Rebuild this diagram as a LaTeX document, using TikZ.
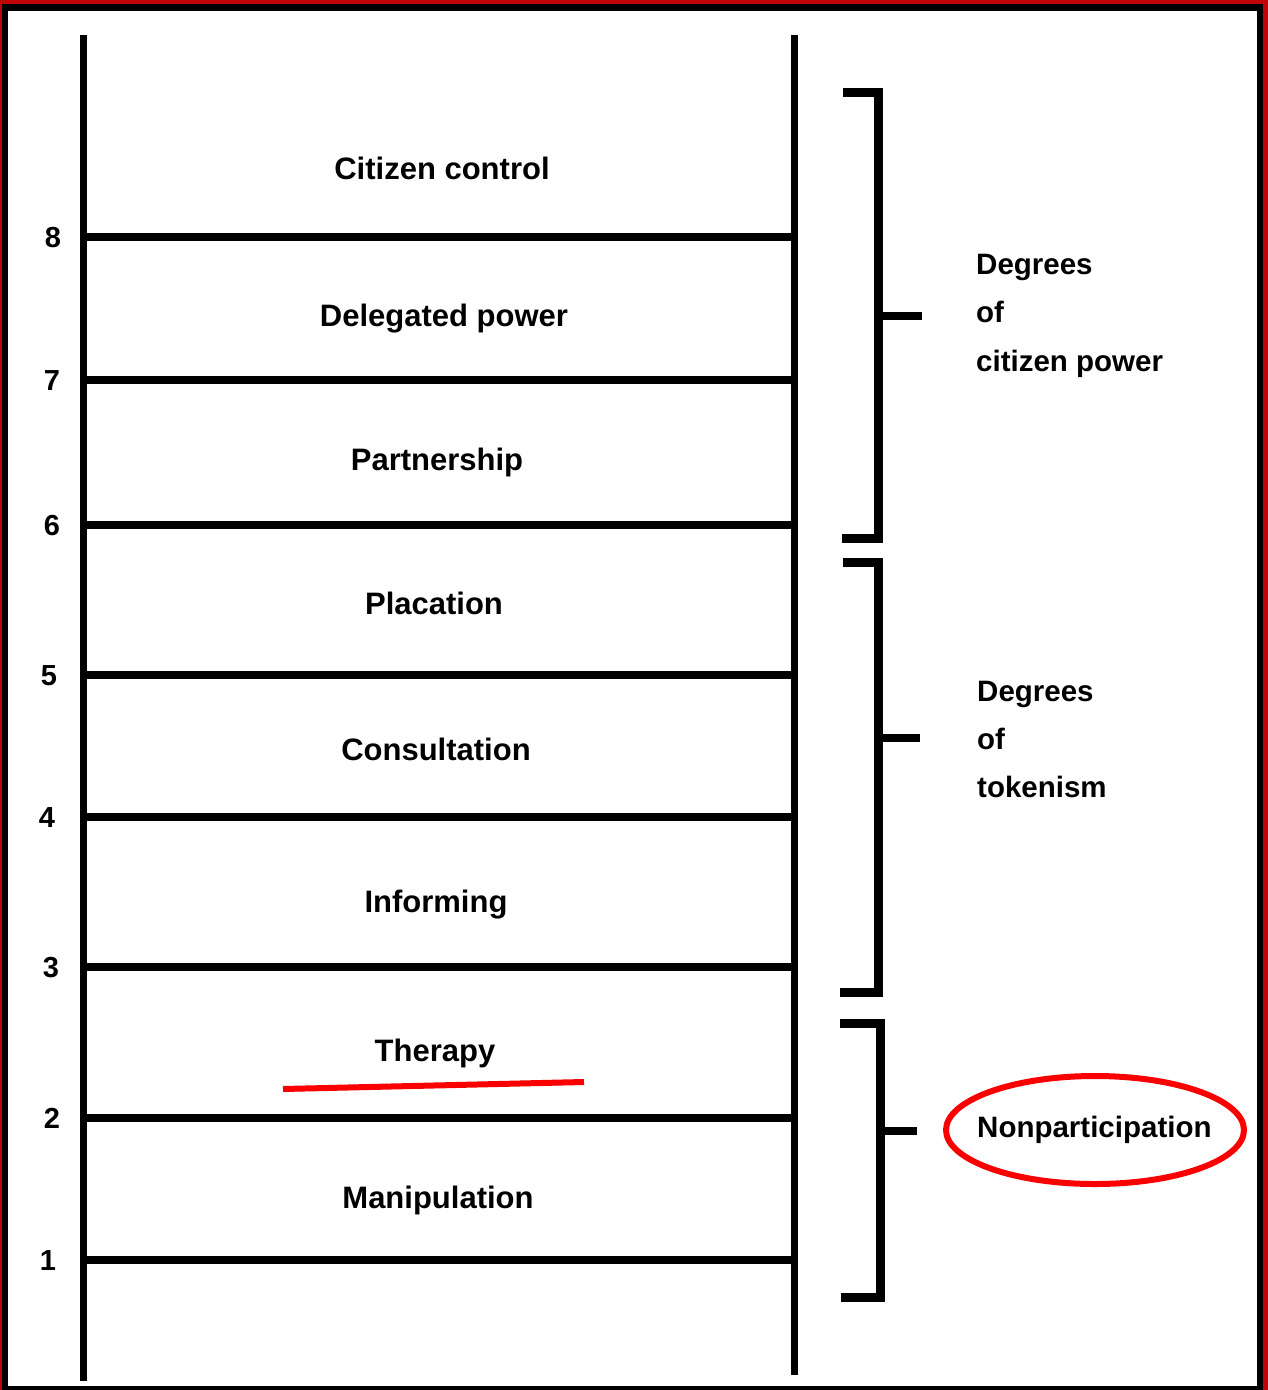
\documentclass[tikz,border=0pt]{standalone}
\usepackage{fontspec}
\setmainfont{Liberation Sans}
\definecolor{framered}{RGB}{192,4,8}
\definecolor{markred}{RGB}{250,0,0}
\begin{document}
\begin{tikzpicture}[x=1pt,y=-1pt,
  rail/.style={line width=7pt},
  rung/.style={line width=8.5pt},
  brack/.style={line width=9pt, line cap=butt, line join=miter},
  tick/.style={line width=8pt},
  lbl/.style={anchor=base, inner sep=0pt, font=\fontsize{31}{31}\selectfont\bfseries},
  num/.style={anchor=base, inner sep=0pt, font=\fontsize{29}{29}\selectfont\bfseries},
  side/.style={anchor=base west, inner sep=0pt, font=\fontsize{29.5}{29.5}\selectfont\bfseries},
  redmark/.style={draw=markred, line width=6pt}
]
% frame
\useasboundingbox (0,0) rectangle (1268,1390);
\fill[framered] (0,0) rectangle (1268,1390);
\fill[black] (2,4) rectangle (1263,1390);
\fill[white] (8,11) rectangle (1257,1386);

% ladder rails
\coordinate (lt) at (83,35);
\coordinate (lb) at (83,1381);
\coordinate (rt) at (794,35);
\coordinate (rb) at (794,1375);
\draw[rail] (lt) -- (lb);
\draw[rail] (rt) -- (rb);

% rungs with their numbers
\foreach \n/\y/\nx in {8/237/53,7/380/52,6/525/52,5/675/49,4/817/47,3/967/51,2/1118/52,1/1260/48}{
  \coordinate (rl\n) at (83,\y);
  \coordinate (rr\n) at (794,\y);
  \draw[rung] (rl\n) -- (rr\n);
  \node[num] (n\n) at (\nx,\y+10) {\n};
}

% rung labels
\node[lbl] (citizen) at (442,179) {Citizen control};
\node[lbl] (delegated) at (444,326) {Delegated power};
\node[lbl] (partner) at (437,470) {Partnership};
\node[lbl] (placation) at (434,614) {Placation};
\node[lbl] (consult) at (436,760) {Consultation};
\node[lbl] (inform) at (436,912) {Informing};
\node[lbl] (therapy) at (435,1061) {Therapy};
\node[lbl] (manip) at (438,1208) {Manipulation};

% brackets
\draw[brack] (843,92) -- (878,92) -- (878,538) -- (842,538);
\draw[tick] (878,316) -- (922,316);
\draw[brack] (843,562) -- (878,562) -- (878,992) -- (840,992);
\draw[tick] (878,738) -- (920,738);
\draw[brack] (840,1023) -- (880,1023) -- (880,1297) -- (841,1297);
\draw[tick] (880,1131) -- (917,1131);

% group names
\node[side] (g1a) at (976,274) {Degrees};
\node[side] (g1b) at (976,322) {of};
\node[side] (g1c) at (976,371) {citizen power};
\node[side] (g2a) at (977,701) {Degrees};
\node[side] (g2b) at (977,749) {of};
\node[side] (g2c) at (977,797) {tokenism};
\node[side] (g3) at (977,1137) {Nonparticipation};

% red markings
\coordinate (ua) at (283,1089);
\coordinate (ub) at (584,1082);
\draw[redmark] (ua) -- (ub);
\draw[redmark] (1095,1130) ellipse [x radius=149, y radius=54];
\end{tikzpicture}
\end{document}
